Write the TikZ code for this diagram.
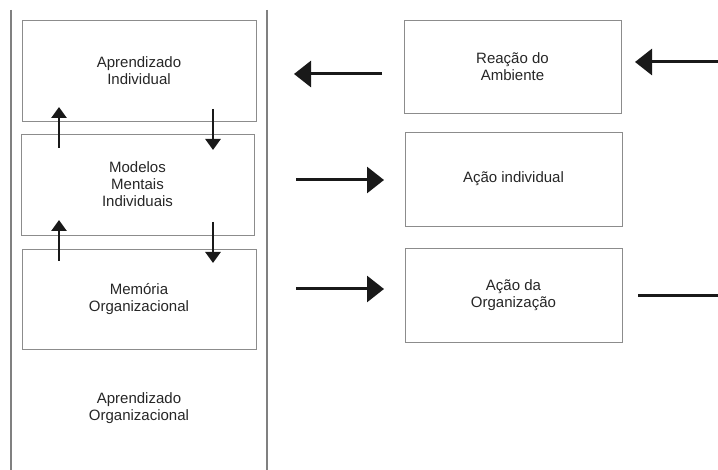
\documentclass[tikz,border=0pt]{standalone}
\usepackage{fontspec}
\setmainfont{Liberation Sans}
\usetikzlibrary{shapes,arrows,arrows.meta}

\begin{document}
\begin{tikzpicture}[x=1pt,y=-1pt]
		\tikzstyle {texto} = [align=center, text=black!85, font=\fontsize{15}{17}\selectfont, inner sep=0pt]
		\tikzstyle {bloco} = [texto, draw=gray!90, line width=0.8pt]
		\tikzstyle {seta grande} = [line width=3pt, black!90, -{Triangle[length=17pt,width=26pt]}]
		\tikzstyle {seta} = [line width=2.6pt, black!90, -{Triangle[length=11pt,width=15pt]}]
		\tikzstyle {moldura} = [gray, line width=1.2pt]

		\useasboundingbox (0,0) rectangle (718,470);

		% moldura do aprendizado organizacional
		\draw[moldura] (11,10) -- (11,470);
		\draw[moldura] (267,10) -- (267,470);

		\node[bloco, minimum width=234pt, minimum height=101pt] (aprInd) at (139,70.5) {Aprendizado\\Individual};
		\node[bloco, minimum width=233pt, minimum height=101pt] (modelos) at (137.5,184.5) {Modelos\\Mentais\\Individuais};
		\node[bloco, minimum width=234pt, minimum height=100pt] (memoria) at (139,299) {Mem\'oria\\Organizacional};
		\node[texto] (aprOrg) at (139,408) {Aprendizado\\Organizacional};

		\node[bloco, minimum width=217pt, minimum height=93pt] (reacao) at (512.5,66.5) {Rea\c{c}\~ao do\\Ambiente};
		\node[bloco, minimum width=217pt, minimum height=94pt] (acaoInd) at (513.5,179) {A\c{c}\~ao individual};
		\node[bloco, minimum width=217pt, minimum height=94pt] (acaoOrg) at (513.5,295) {A\c{c}\~ao da\\Organiza\c{c}\~ao};

		% setas verticais
		\coordinate (sobe1a) at (59,148);   \coordinate (sobe1b) at (59,107);
		\coordinate (desce1a) at (213,109); \coordinate (desce1b) at (213,150);
		\coordinate (sobe2a) at (59,261);   \coordinate (sobe2b) at (59,220);
		\coordinate (desce2a) at (213,222); \coordinate (desce2b) at (213,263);
		\draw[seta] (sobe1a) -- (sobe1b);
		\draw[seta] (desce1a) -- (desce1b);
		\draw[seta] (sobe2a) -- (sobe2b);
		\draw[seta] (desce2a) -- (desce2b);

		% setas horizontais
		\coordinate (volta1a) at (382,74);  \coordinate (volta1b) at (294,74);
		\coordinate (volta2a) at (718,62);  \coordinate (volta2b) at (635,62);
		\coordinate (ida1a) at (296,180);   \coordinate (ida1b) at (384,180);
		\coordinate (ida2a) at (296,289);   \coordinate (ida2b) at (384,289);
		\coordinate (saida1) at (638,296);  \coordinate (saida2) at (718,296);
		\draw[seta grande] (volta1a) -- (volta1b);
		\draw[seta grande] (volta2a) -- (volta2b);
		\draw[seta grande] (ida1a) -- (ida1b);
		\draw[seta grande] (ida2a) -- (ida2b);
		\draw[line width=3pt, black!90] (saida1) -- (saida2);

	\end{tikzpicture}
\end{document}
